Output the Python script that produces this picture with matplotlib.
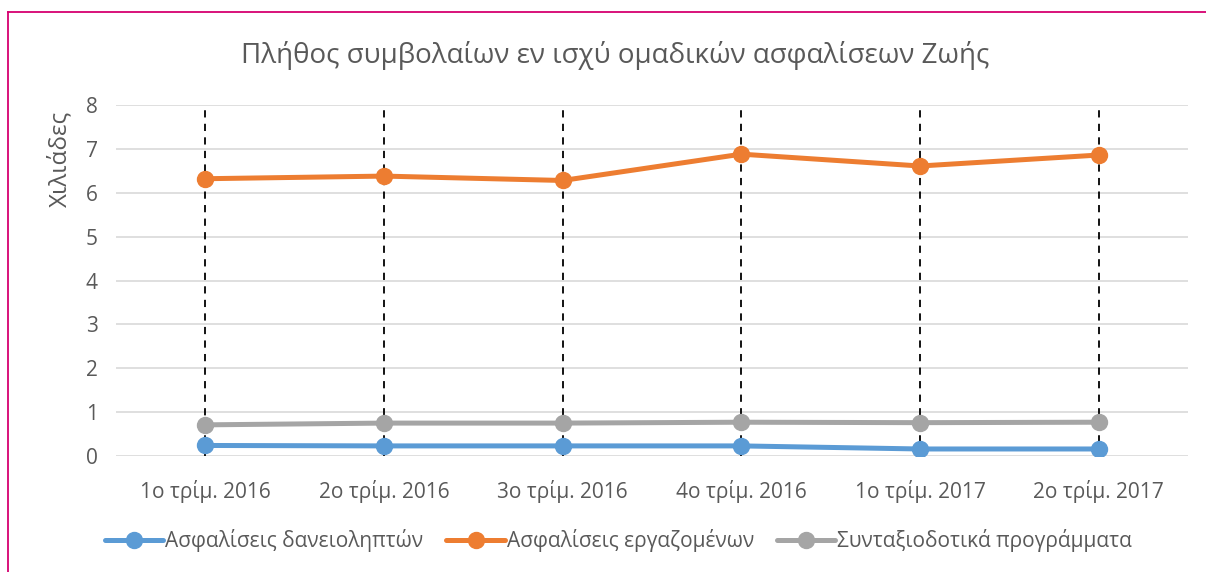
import matplotlib.pyplot as plt
from matplotlib.lines import Line2D

plt.rcParams['font.family'] = ['Open Sans', 'DejaVu Sans']

# Δεδομένα (χιλιάδες συμβόλαια)
quarters = ['1ο τρίμ. 2016', '2ο τρίμ. 2016', '3ο τρίμ. 2016',
            '4ο τρίμ. 2016', '1ο τρίμ. 2017', '2ο τρίμ. 2017']
borrowers = [0.24, 0.23, 0.23, 0.23, 0.16, 0.16]
employees = [6.32, 6.38, 6.28, 6.88, 6.61, 6.86]
pensions = [0.71, 0.75, 0.75, 0.77, 0.76, 0.77]

names = ['Ασφαλίσεις δανειοληπτών', 'Ασφαλίσεις εργαζομένων',
         'Συνταξιοδοτικά προγράμματα']
colors = ['#5B9BD5', '#ED7D31', '#A5A5A5']
txt = '#595959'

fig = plt.figure(figsize=(12.06, 5.72), dpi=100)
ax = fig.add_axes([0.0962, 0.2028, 0.8889, 0.6136])

x = list(range(len(quarters)))
for xi in x:
    ax.axvline(xi, color='black', lw=1.3, ls=(0, (4, 3.5)), zorder=1)

for vals, name, c in zip([borrowers, employees, pensions], names, colors):
    ax.plot(x, vals, color=c, lw=3.6, marker='o', ms=11.5, label=name,
            zorder=3, solid_capstyle='round')

ax.set_xlim(-0.5, len(quarters) - 0.5)
ax.set_ylim(0, 8)
ax.set_yticks(range(0, 9))
ax.grid(axis='y', color='#D9D9D9', lw=1.2, zorder=0)
ax.set_axisbelow(True)
for s in ax.spines.values():
    s.set_visible(False)
ax.set_xticks(x)
ax.set_xticklabels(quarters)
ax.tick_params(axis='both', length=0, labelsize=15, labelcolor=txt)
ax.tick_params(axis='x', pad=17)
ax.tick_params(axis='y', pad=13)

fig.text(0.51, 1 - 55 / 572, 'Πλήθος συμβολαίων εν ισχύ ομαδικών ασφαλίσεων Ζωής',
         ha='center', va='center', fontsize=20, color=txt)
fig.text(60 / 1206, 1 - 159 / 572, 'Χιλιάδες', rotation=90,
         ha='center', va='center', fontsize=17.5, color=txt)

leg = fig.legend(loc='center', bbox_to_anchor=(0.513, 1 - 541 / 572), ncol=3,
                 frameon=False, fontsize=15, handlelength=2.8,
                 columnspacing=1.1, handletextpad=0.1)
for t in leg.get_texts():
    t.set_color(txt)

# περίγραμμα
fig.add_artist(Line2D([8 / 1206, 8 / 1206], [0, 1 - 12 / 572],
                      color='#D6006F', lw=1.3, transform=fig.transFigure))
fig.add_artist(Line2D([8 / 1206, 1], [1 - 12 / 572, 1 - 12 / 572],
                      color='#D6006F', lw=1.3, transform=fig.transFigure))

fig.savefig('out.png', dpi=100)
